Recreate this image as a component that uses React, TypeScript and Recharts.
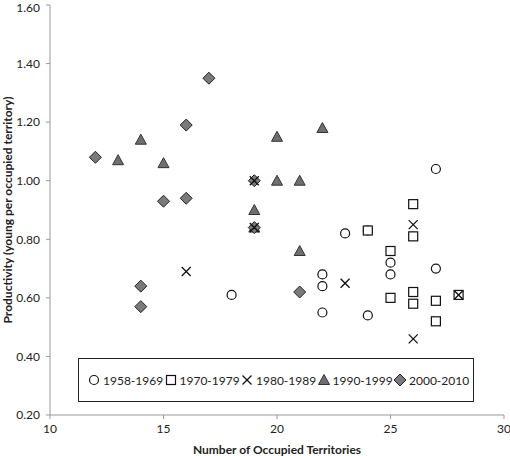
import { Legend, Scatter, ScatterChart, XAxis, YAxis } from "recharts"

// values: x = occupied territories, y = young per occupied territory
const decade1958 = [
  { x: 18, y: 0.61 },
  { x: 22, y: 0.68 },
  { x: 22, y: 0.64 },
  { x: 22, y: 0.55 },
  { x: 23, y: 0.82 },
  { x: 24, y: 0.83 },
  { x: 24, y: 0.54 },
  { x: 25, y: 0.72 },
  { x: 25, y: 0.68 },
  { x: 27, y: 1.04 },
  { x: 27, y: 0.7 },
]

const decade1970 = [
  { x: 24, y: 0.83 },
  { x: 25, y: 0.76 },
  { x: 25, y: 0.6 },
  { x: 26, y: 0.92 },
  { x: 26, y: 0.81 },
  { x: 26, y: 0.62 },
  { x: 26, y: 0.58 },
  { x: 27, y: 0.59 },
  { x: 27, y: 0.52 },
  { x: 28, y: 0.61 },
]

const decade1980 = [
  { x: 16, y: 0.69 },
  { x: 19, y: 1.0 },
  { x: 19, y: 0.84 },
  { x: 23, y: 0.65 },
  { x: 26, y: 0.85 },
  { x: 26, y: 0.46 },
  { x: 28, y: 0.61 },
]

const decade1990 = [
  { x: 13, y: 1.07 },
  { x: 14, y: 1.14 },
  { x: 15, y: 1.06 },
  { x: 19, y: 0.9 },
  { x: 19, y: 0.84 },
  { x: 20, y: 1.15 },
  { x: 20, y: 1.0 },
  { x: 21, y: 1.0 },
  { x: 21, y: 0.76 },
  { x: 22, y: 1.18 },
]

const decade2000 = [
  { x: 12, y: 1.08 },
  { x: 14, y: 0.64 },
  { x: 14, y: 0.57 },
  { x: 15, y: 0.93 },
  { x: 16, y: 1.19 },
  { x: 16, y: 0.94 },
  { x: 17, y: 1.35 },
  { x: 19, y: 1.0 },
  { x: 19, y: 0.84 },
  { x: 21, y: 0.62 },
]

const xTicks = [10, 15, 20, 25, 30]
const yTicks = [0.2, 0.4, 0.6, 0.8, 1.0, 1.2, 1.4, 1.6]
const legendLabels = ["1958-1969", "1970-1979", "1980-1989", "1990-1999", "2000-2010"]

const CircleMark = ({ cx, cy }: any) => (
  <circle cx={cx} cy={cy} r={4.5} fill="#fff" stroke="#111" strokeWidth={1.2} />
)

const SquareMark = ({ cx, cy }: any) => (
  <rect x={cx - 4.5} y={cy - 4.5} width={9} height={9} fill="#fff" stroke="#111" strokeWidth={1.2} />
)

const CrossMark = ({ cx, cy }: any) => (
  <g stroke="#111" strokeWidth={1.3}>
    <line x1={cx - 4.5} y1={cy - 4.5} x2={cx + 4.5} y2={cy + 4.5} />
    <line x1={cx - 4.5} y1={cy + 4.5} x2={cx + 4.5} y2={cy - 4.5} />
  </g>
)

const TriangleMark = ({ cx, cy }: any) => (
  <polygon
    points={`${cx},${cy - 5.5} ${cx - 5.5},${cy + 4.5} ${cx + 5.5},${cy + 4.5}`}
    fill="#6f6f6f"
    stroke="#333"
    strokeWidth={1}
  />
)

const DiamondMark = ({ cx, cy }: any) => (
  <polygon
    points={`${cx},${cy - 6} ${cx + 6},${cy} ${cx},${cy + 6} ${cx - 6},${cy}`}
    fill="#7a7a7a"
    stroke="#222"
    strokeWidth={1}
  />
)

const marks = [CircleMark, SquareMark, CrossMark, TriangleMark, DiamondMark]

function LegendBox() {
  return (
    <div
      style={{
        width: 386,
        height: 42,
        border: "1px solid #222",
        display: "flex",
        alignItems: "center",
        paddingLeft: 8,
        fontSize: 12,
        color: "#222",
      }}
    >
      {legendLabels.map((label, i) => {
        const Mark = marks[i]
        return (
          <div key={label} style={{ width: 76.5, display: "flex", alignItems: "center" }}>
            <svg width={14} height={14} style={{ marginRight: 2 }}>
              <Mark cx={7} cy={7} />
            </svg>
            <span>{label}</span>
          </div>
        )
      })}
    </div>
  )
}

export default function App() {
  return (
    <div style={{ position: "absolute", left: 0, top: 0, fontFamily: "Lato" }}>
      <ScatterChart width={510} height={456} margin={{ top: 5, right: 6, bottom: 0, left: 0 }}>
        <XAxis
          type="number"
          dataKey="x"
          domain={[10, 30]}
          ticks={xTicks}
          stroke="#999"
          tickSize={4}
          tickMargin={5}
          height={41}
          tick={{ fill: "#222", fontSize: 12 }}
          label={{
            value: "Number of Occupied Territories",
            position: "insideBottom",
            offset: 2,
            style: { fontWeight: "bold", fontSize: 12, fill: "#222" },
          }}
        />
        <YAxis
          type="number"
          dataKey="y"
          domain={[0.2, 1.6]}
          ticks={yTicks}
          stroke="#999"
          tickSize={4}
          tickMargin={6}
          width={50}
          tickFormatter={(v: number) => v.toFixed(2)}
          tick={{ fill: "#222", fontSize: 12 }}
          label={{
            value: "Productivity  (young per occupied territory)",
            angle: -90,
            position: "insideLeft",
            offset: 8,
            style: { textAnchor: "middle", fontWeight: "bold", fontSize: 12, fill: "#222" },
          }}
        />
        <Legend
          layout="horizontal"
          verticalAlign="middle"
          align="center"
          wrapperStyle={{ left: 78, top: 358, width: 394 }}
          content={() => <LegendBox />}
        />
        <Scatter name="1958-1969" data={decade1958} shape={CircleMark} isAnimationActive={false} />
        <Scatter name="1970-1979" data={decade1970} shape={SquareMark} isAnimationActive={false} />
        <Scatter name="1990-1999" data={decade1990} shape={TriangleMark} isAnimationActive={false} />
        <Scatter name="2000-2010" data={decade2000} shape={DiamondMark} isAnimationActive={false} />
        <Scatter name="1980-1989" data={decade1980} shape={CrossMark} isAnimationActive={false} />
      </ScatterChart>
    </div>
  )
}
